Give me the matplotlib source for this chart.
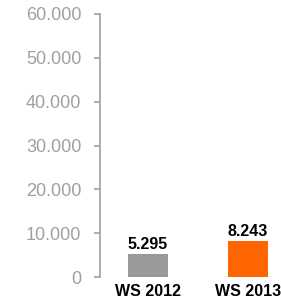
import matplotlib.pyplot as plt
from matplotlib.ticker import FuncFormatter

plt.rcParams['font.family'] = ['Liberation Sans', 'DejaVu Sans']

# data
semesters = ["WS 2012", "WS 2013"]
counts = [5295, 8243]
bar_colors = ["#999999", "#ff6600"]
y_ticks = [0, 10000, 20000, 30000, 40000, 50000, 60000]


def de_thousands(v, pos=None):
    return f"{int(v):,}".replace(",", ".")


fig = plt.figure(figsize=(2.81, 3.01), dpi=100)
ax = fig.add_axes([100 / 281, 24 / 301, 181 / 281, 263 / 301])

x = range(len(semesters))
bars = ax.bar(x, counts, width=0.4, color=bar_colors)

for b, v in zip(bars, counts):
    ax.text(b.get_x() + b.get_width() / 2, v + 1150, de_thousands(v),
            ha="center", va="baseline", fontsize=11.5, fontweight="bold", color="black")

ax.set_xlim(-0.48, 1.33)
ax.set_ylim(0, 60000)
ax.set_yticks(y_ticks)
ax.yaxis.set_major_formatter(FuncFormatter(de_thousands))
ax.set_xticks(list(x))
ax.set_xticklabels(semesters, fontsize=11.5, fontweight="bold")

for s in ["top", "right", "bottom"]:
    ax.spines[s].set_visible(False)
ax.spines["left"].set_color("#a0a0a0")
ax.spines["left"].set_linewidth(1.2)

ax.tick_params(axis="y", colors="#a0a0a0", labelsize=13, length=4.5, width=1.2, pad=9)
ax.tick_params(axis="x", length=0, pad=5, labelcolor="black")

fig.savefig("out.png", dpi=100)
